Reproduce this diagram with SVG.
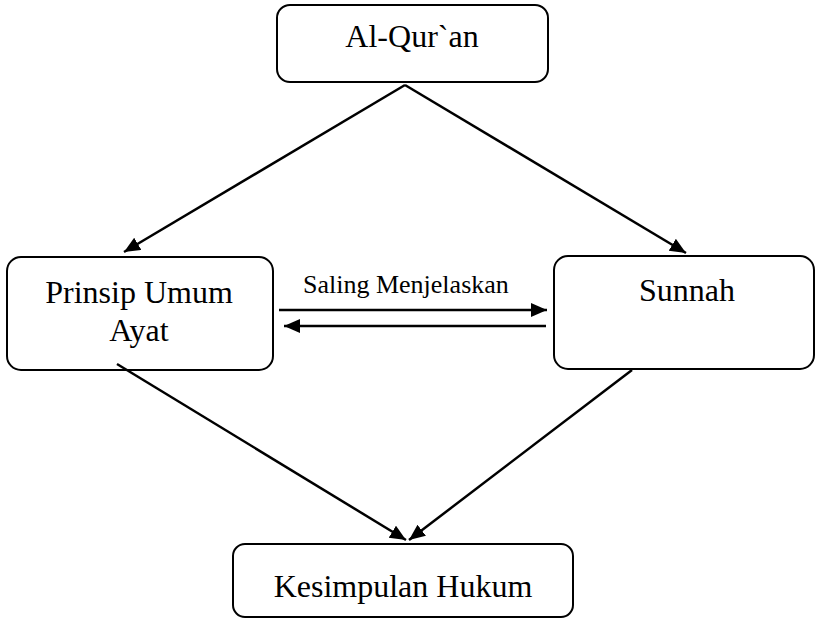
<svg xmlns="http://www.w3.org/2000/svg" width="815" height="619" viewBox="0 0 815 619">
<style>
.box{fill:#fff;stroke:#000;stroke-width:2}
.t{font-family:"Liberation Serif","Times New Roman",serif;font-size:32px;fill:#000;text-anchor:middle}
.s{font-family:"Liberation Serif","Times New Roman",serif;font-size:26px;fill:#000}
.c{stroke:#000;stroke-width:2.5;fill:none;marker-end:url(#ah)}
</style>
<defs>
<marker id="ah" markerUnits="userSpaceOnUse" markerWidth="18" markerHeight="16" refX="16" refY="7" orient="auto">
<path d="M0,0 L16,7 L0,14 Z" fill="#000"/>
</marker>
</defs>
<g id="alquran">
<rect class="box" x="277" y="5" width="271" height="77" rx="13"/>
<text class="t" x="412" y="47">Al-Qur`an</text>
</g>
<g id="prinsip">
<rect class="box" x="7" y="257" width="266" height="113" rx="14"/>
<text class="t" x="139" y="303">Prinsip Umum</text>
<text class="t" x="139" y="341">Ayat</text>
</g>
<g id="sunnah">
<rect class="box" x="554" y="256" width="260" height="113" rx="14"/>
<text class="t" x="687" y="301">Sunnah</text>
</g>
<g id="kesimpulan">
<rect class="box" x="233" y="544" width="340" height="73" rx="12"/>
<text class="t" x="403" y="597">Kesimpulan Hukum</text>
</g>
<text class="s" x="303" y="293">Saling Menjelaskan</text>
<g id="connectors">
<line class="c" x1="405" y1="85" x2="124" y2="252"/>
<line class="c" x1="405" y1="85" x2="686" y2="253"/>
<line class="c" x1="279" y1="310" x2="547" y2="310"/>
<line class="c" x1="546" y1="326" x2="284" y2="326"/>
<line class="c" x1="117" y1="364" x2="406" y2="540"/>
<line class="c" x1="632" y1="370" x2="409" y2="540"/>
</g>
</svg>
